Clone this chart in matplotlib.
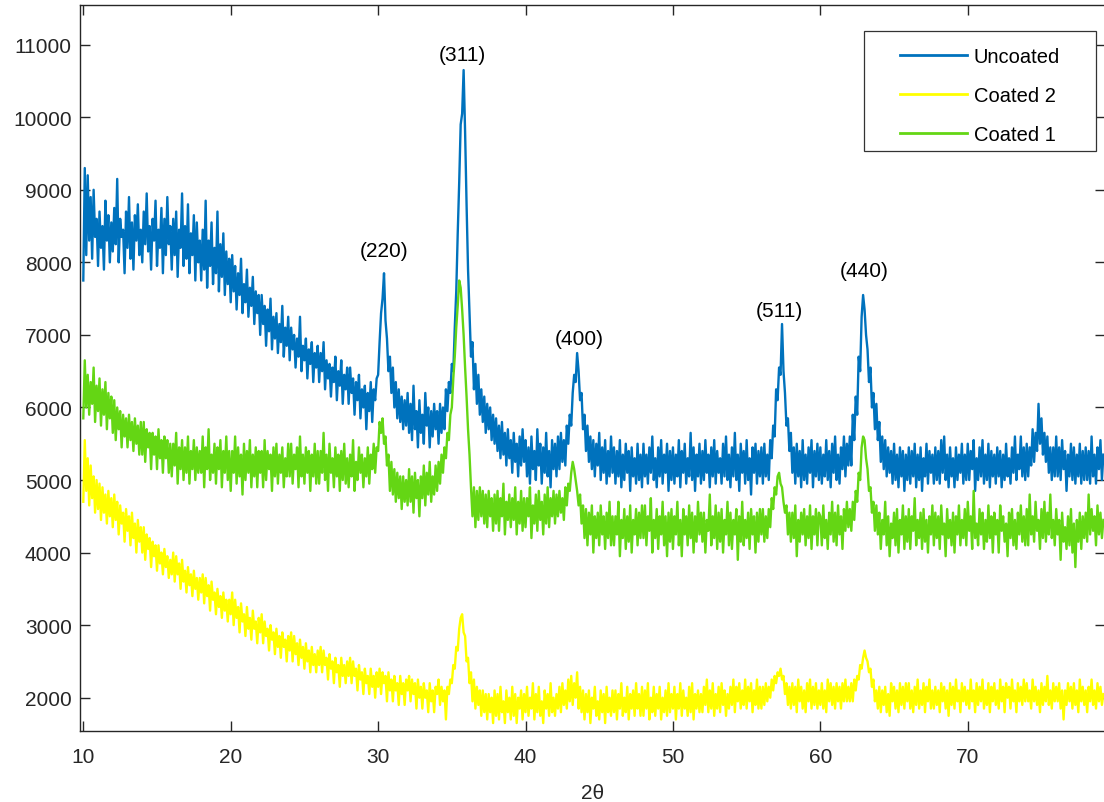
import numpy as np
import matplotlib
matplotlib.use("Agg")
import matplotlib.pyplot as plt
from matplotlib.patches import Rectangle

plt.rcParams['font.family'] = ['Liberation Sans', 'DejaVu Sans']

# XRD scans, every 0.1 deg starting at 10 deg
scan_start = 10.0
scan_step = 0.1

uncoated = [
    7750, 9300, 8100, 9200, 8300, 8900, 8050, 9000, 8350, 8600, 7950, 8700, 8200, 8500, 7900, 8850, 8300, 8650, 8000, 8550,
    8150, 8750, 8250, 9150, 8000, 8600, 8350, 8450, 7850, 8700, 8200, 8900, 8050, 8550, 7900, 8650, 8300, 8800, 8100, 8450,
    8000, 8700, 8250, 8950, 8150, 8500, 7900, 8600, 8300, 8850, 7950, 8450, 8200, 8750, 7850, 8600, 8100, 8900, 8250, 8500,
    7900, 8600, 8100, 8700, 7800, 8450, 8200, 8950, 7950, 8500, 8050, 8800, 7850, 8400, 8100, 8650, 7750, 8550, 8000, 8300,
    7750, 8450, 7900, 8850, 7650, 8300, 7950, 8550, 7700, 8200, 7850, 8700, 7600, 8250, 7800, 8400, 7550, 8150, 7700, 8050,
    7450, 8100, 7600, 7950, 7350, 7850, 7550, 8050, 7300, 7700, 7450, 7900, 7250, 7650, 7400, 7800, 7150, 7600, 7300, 7550,
    7000, 7550, 7150, 7400, 6850, 7350, 7050, 7500, 6800, 7250, 6950, 7300, 6750, 7150, 6900, 7400, 6700, 7100, 6850, 7250,
    6650, 7100, 6800, 7000, 6550, 6950, 6700, 7250, 6500, 6850, 6650, 6950, 6400, 6800, 6600, 6900, 6350, 6750, 6550, 6850,
    6350, 6750, 6500, 6900, 6250, 6650, 6400, 6600, 6150, 6550, 6350, 6700, 6100, 6500, 6300, 6650, 6050, 6450, 6250, 6550,
    6050, 6550, 6200, 6400, 5900, 6350, 6100, 6450, 5850, 6250, 6000, 6300, 5700, 6200, 5950, 6350, 5800, 6250, 6100, 6400,
    6450, 6900, 7300, 7500, 7850, 7200, 6950, 6500, 6700, 6200, 6550, 6000, 6350, 5850, 6250, 5800, 6150, 5700, 6100, 5750,
    6200, 5650, 6050, 5550, 6300, 5700, 5950, 5450, 6100, 5650, 5900, 5500, 6200, 5750, 6000, 5450, 5950, 5600, 6050, 5700,
    5950, 5500, 6050, 5650, 6000, 5700, 6250, 5950, 6350, 6200, 6600, 6500, 7100, 7600, 8400, 9100, 9900, 10050, 10650, 9800,
    8800, 7900, 7300, 6700, 6900, 6250, 6600, 6050, 6450, 5900, 6250, 5800, 6150, 5650, 6050, 5700, 6000, 5550, 5900, 5500,
    5850, 5400, 5750, 5300, 5800, 5350, 5650, 5200, 5700, 5300, 5550, 5100, 5650, 5250, 5500, 5050, 5600, 5200, 5700, 5250,
    5550, 5050, 5450, 4950, 5600, 5150, 5400, 5000, 5700, 5200, 5500, 4950, 5450, 5100, 5650, 5050, 5400, 4900, 5550, 5150,
    5500, 5050, 5600, 5150, 5650, 5250, 5550, 5200, 5750, 5500, 5900, 5750, 6200, 6450, 6350, 6750, 6500, 6100, 6200, 5700,
    5900, 5400, 5750, 5250, 5600, 5150, 5550, 5050, 5500, 5200, 5650, 5000, 5450, 5100, 5550, 4950, 5400, 5050, 5600, 5100,
    5450, 4950, 5400, 5050, 5550, 4900, 5350, 5000, 5500, 5100, 5400, 4850, 5450, 5050, 5300, 4950, 5500, 5000, 5350, 4900,
    5500, 5050, 5350, 4950, 5450, 5100, 5600, 5000, 5300, 4900, 5450, 5050, 5550, 4950, 5350, 5100, 5500, 4850, 5400, 5000,
    5450, 4950, 5350, 5050, 5550, 4900, 5400, 5100, 5500, 4950, 5300, 5050, 5650, 5000, 5450, 4850, 5350, 5050, 5500, 4950,
    5400, 5000, 5550, 5100, 5350, 4900, 5450, 5050, 5550, 4950, 5400, 5100, 5300, 4950, 5500, 5050, 5600, 5000, 5350, 4900,
    5450, 5050, 5650, 5000, 5350, 4850, 5500, 5100, 5400, 4950, 5550, 5000, 5300, 4800, 5450, 5100, 5500, 4950, 5400, 5050,
    5450, 4950, 5500, 5050, 5350, 5000, 5550, 5300, 5750, 5600, 6250, 6100, 6550, 6450, 7150, 6500, 6200, 5750, 5850, 5400,
    5650, 5100, 5450, 4950, 5500, 5050, 5400, 4900, 5550, 5000, 5350, 4950, 5450, 5100, 5550, 4900, 5400, 5050, 5500, 5000,
    5450, 4950, 5350, 5050, 5550, 5000, 5400, 4900, 5500, 5100, 5600, 5000, 5350, 4950, 5450, 5150, 5600, 5050, 5500, 5200,
    5600, 5200, 5900, 5550, 6150, 5900, 6700, 6500, 7250, 7550, 7350, 7000, 6800, 6350, 6550, 6000, 6200, 5700, 6050, 5550,
    5800, 5250, 5600, 5150, 5550, 5050, 5450, 5100, 5400, 4950, 5500, 5000, 5350, 4900, 5450, 5050, 5400, 4850, 5350, 5000,
    5450, 4950, 5400, 5050, 5500, 4900, 5350, 5000, 5450, 4850, 5300, 5050, 5500, 4950, 5400, 5100, 5350, 4950, 5450, 5000,
    5400, 4950, 5550, 5100, 5600, 5000, 5350, 4900, 5450, 5050, 5300, 4900, 5450, 5000, 5350, 5100, 5500, 4950, 5350, 5000,
    5500, 5000, 5400, 5150, 5550, 4850, 5300, 5000, 5450, 5050, 5550, 4950, 5350, 5000, 5500, 4900, 5400, 5050, 5350, 4950,
    5450, 5050, 5400, 4900, 5350, 5000, 5500, 5050, 5300, 4950, 5450, 5100, 5600, 5000, 5350, 5150, 5600, 5050, 5450, 5000,
    5500, 5050, 5450, 5200, 5700, 5250, 5650, 5400, 6050, 5500, 5850, 5350, 5650, 5250, 5600, 5100, 5450, 5000, 5450, 5050,
    5600, 5050, 5450, 5000, 5550, 5150, 5400, 4850, 5350, 5050, 5500, 5000, 5450, 4950, 5350, 5050, 5500, 4950, 5400, 5000,
    5450, 5000, 5400, 4950, 5600, 5050, 5350, 4950, 5450, 5150, 5550, 5000, 5350,
]

coated_2 = [
    4700, 5550, 4850, 5300, 4650, 5200, 4750, 5050, 4550, 5000, 4600, 4950, 4450, 4900, 4550, 4800, 4400, 4850, 4500, 4750,
    4350, 4800, 4450, 4700, 4250, 4650, 4400, 4550, 4150, 4600, 4300, 4500, 4100, 4550, 4200, 4400, 4000, 4450, 4150, 4350,
    4000, 4350, 3900, 4250, 4050, 4200, 3800, 4150, 3950, 4100, 3750, 4100, 3850, 4000, 3700, 4050, 3800, 3950, 3650, 3900,
    3700, 4000, 3600, 3950, 3700, 3850, 3500, 3900, 3600, 3750, 3450, 3800, 3550, 3700, 3400, 3750, 3500, 3650, 3350, 3650,
    3450, 3700, 3300, 3650, 3400, 3550, 3200, 3600, 3350, 3450, 3150, 3500, 3250, 3400, 3100, 3450, 3200, 3350, 3050, 3350,
    3150, 3450, 3000, 3350, 3100, 3250, 2900, 3300, 3050, 3150, 2850, 3250, 2950, 3100, 2800, 3200, 2950, 3050, 2750, 3100,
    2900, 3150, 2750, 3050, 2850, 2950, 2650, 3000, 2800, 2900, 2600, 2950, 2700, 2850, 2550, 2900, 2700, 2800, 2500, 2850,
    2650, 2900, 2500, 2850, 2600, 2750, 2450, 2800, 2550, 2700, 2400, 2750, 2500, 2650, 2350, 2700, 2450, 2600, 2350, 2650,
    2450, 2700, 2350, 2650, 2450, 2550, 2250, 2600, 2400, 2500, 2200, 2550, 2350, 2450, 2150, 2550, 2300, 2450, 2200, 2500,
    2300, 2550, 2200, 2500, 2300, 2400, 2100, 2450, 2250, 2350, 2050, 2400, 2200, 2300, 2050, 2400, 2150, 2300, 2000, 2350,
    2150, 2400, 2050, 2350, 2200, 2300, 1950, 2350, 2100, 2250, 1950, 2300, 2100, 2200, 1900, 2300, 2050, 2200, 1900, 2250,
    2100, 2300, 1950, 2250, 2050, 2200, 1850, 2250, 2000, 2150, 1850, 2200, 2000, 2100, 1800, 2200, 1950, 2100, 1800, 2150,
    2050, 2250, 1900, 2150, 1950, 2100, 1700, 2150, 2050, 2250, 2200, 2450, 2400, 2700, 2650, 2950, 3100, 3150, 2900, 2850,
    2500, 2550, 2200, 2350, 1950, 2250, 1850, 2150, 1900, 2100, 1750, 2100, 1800, 2050, 1700, 2050, 1800, 2000, 1650, 2100,
    1750, 2050, 1700, 2150, 1800, 1950, 1650, 2100, 1800, 2000, 1700, 2150, 1750, 2050, 1650, 2000, 1850, 2100, 1700, 2050,
    1800, 2150, 1750, 2000, 1850, 2200, 1700, 2050, 1800, 2150, 1750, 1950, 1650, 2100, 1850, 2050, 1750, 2200, 1800, 2000,
    1750, 2050, 1850, 2150, 1800, 2200, 1900, 2100, 1850, 2250, 1950, 2300, 1900, 2200, 2000, 2350, 1850, 2150, 1800, 2100,
    1700, 2050, 1800, 2100, 1650, 2000, 1850, 2150, 1750, 1950, 1700, 2100, 1800, 2050, 1650, 2150, 1800, 2000, 1750, 2100,
    1800, 2100, 1700, 2050, 1850, 2200, 1750, 2000, 1800, 2150, 1700, 2050, 1850, 2100, 1750, 2200, 1850, 2050, 1750, 2150,
    1750, 2100, 1850, 2200, 1700, 2000, 1800, 2150, 1750, 2050, 1850, 2150, 1700, 2000, 1800, 2100, 1750, 2200, 1800, 2050,
    1850, 2150, 1700, 2050, 1850, 2200, 1750, 2100, 1850, 2000, 1750, 2150, 1800, 2200, 1700, 2050, 1850, 2100, 1800, 2050,
    1800, 2150, 1900, 2250, 1800, 2100, 1850, 2200, 1750, 2050, 1850, 2150, 1800, 2200, 1900, 2100, 1750, 2050, 1850, 2150,
    1900, 2250, 1800, 2150, 1950, 2200, 1850, 2100, 1900, 2250, 1850, 2150, 1950, 2200, 1800, 2100, 1900, 2250, 1850, 2150,
    1850, 2150, 1900, 2200, 1950, 2150, 2000, 2250, 2100, 2300, 2200, 2350, 2300, 2400, 2250, 2300, 2050, 2200, 1900, 2150,
    1850, 2200, 1900, 2150, 1800, 2250, 1950, 2150, 1850, 2100, 1800, 2200, 1950, 2250, 1850, 2150, 1900, 2200, 1850, 2100,
    1900, 2200, 1850, 2100, 1800, 2250, 1950, 2200, 1900, 2150, 1850, 2200, 1950, 2150, 1850, 2200, 1950, 2250, 1950, 2150,
    1950, 2200, 1950, 2250, 2100, 2300, 2250, 2450, 2400, 2550, 2650, 2550, 2500, 2350, 2400, 2150, 2250, 1950, 2100, 1850,
    2150, 1800, 2100, 1900, 2150, 1800, 2050, 1750, 2200, 1950, 2150, 1850, 2100, 1800, 2200, 1900, 2150, 1850, 2200, 1950,
    2200, 1850, 2100, 1800, 2150, 1900, 2250, 1850, 2100, 1900, 2200, 1800, 2150, 1950, 2250, 1850, 2100, 1850, 2150, 1900,
    2100, 1800, 2200, 1950, 2150, 1850, 2100, 1750, 2200, 1900, 2150, 1850, 2250, 1950, 2100, 1800, 2200, 1950, 2150, 1900,
    2100, 1850, 2250, 1950, 2100, 1800, 2200, 1900, 2150, 1950, 2250, 1850, 2100, 1900, 2200, 1800, 2150, 1950, 2200, 1900,
    2100, 1850, 2250, 1950, 2150, 1800, 2200, 2000, 2150, 1850, 2250, 1950, 2100, 1800, 2200, 1950, 2150, 1900, 2250, 1950,
    2200, 1950, 2100, 1850, 2250, 1950, 2150, 1900, 2100, 1800, 2200, 1900, 2150, 1950, 2300, 1900, 2100, 1850, 2200, 1950,
    2150, 1950, 2200, 1850, 2100, 1700, 2100, 1900, 2200, 1950, 2150, 1850, 2200, 1900, 2100, 1800, 2250, 1950, 2150, 1900,
    2100, 1800, 2150, 1950, 2250, 1900, 2100, 1850, 2200, 1950, 2150, 1900, 2050,
]

coated_1 = [
    5850, 6650, 6000, 6450, 5900, 6350, 6050, 6550, 5800, 6300, 5950, 6400, 5750, 6250, 5900, 6350, 5700, 6200, 5850, 6150,
    5650, 6100, 5550, 6000, 5700, 5950, 5450, 5900, 5600, 5850, 5450, 5900, 5550, 5800, 5400, 5850, 5500, 5750, 5350, 5800,
    5350, 5800, 5250, 5700, 5450, 5650, 5150, 5650, 5350, 5600, 5150, 5700, 5300, 5550, 5100, 5600, 5300, 5550, 5100, 5500,
    5050, 5500, 5200, 5650, 4950, 5450, 5150, 5550, 5000, 5450, 5100, 5600, 4950, 5400, 5150, 5550, 5000, 5450, 5100, 5400,
    5100, 5600, 4900, 5450, 5150, 5700, 5000, 5350, 5100, 5500, 4950, 5450, 5150, 5550, 4900, 5400, 5100, 5600, 5000, 5400,
    4850, 5400, 5100, 5600, 4950, 5450, 5050, 5350, 4800, 5500, 5000, 5400, 5100, 5550, 4900, 5350, 5050, 5450, 4900, 5400,
    5100, 5400, 4900, 5550, 5000, 5400, 5150, 5350, 4850, 5450, 5050, 5500, 4950, 5350, 5100, 5450, 4900, 5300, 5050, 5500,
    5050, 5500, 4950, 5350, 5150, 5450, 4900, 5600, 5050, 5350, 4950, 5450, 5100, 5400, 4850, 5350, 5050, 5500, 4950, 5400,
    4950, 5400, 5100, 5650, 5000, 5350, 4850, 5500, 5100, 5300, 4900, 5450, 5050, 5350, 4850, 5400, 5000, 5500, 4950, 5300,
    4900, 5350, 5050, 5550, 4850, 5250, 5000, 5450, 5100, 5350, 4900, 5300, 5050, 5450, 4950, 5350, 5150, 5500, 5100, 5450,
    5400, 5800, 5650, 5850, 5500, 5600, 5200, 5350, 4850, 5250, 4800, 5150, 4700, 5100, 4750, 5050, 4600, 5050, 4700, 5000,
    4650, 5150, 4700, 5050, 4550, 5100, 4750, 5000, 4500, 5050, 4750, 5200, 4650, 5100, 4800, 5250, 4700, 5050, 4800, 5200,
    4850, 5250, 4950, 5350, 5100, 5450, 5300, 5650, 5550, 5900, 6000, 6400, 6700, 7100, 7400, 7750, 7650, 7350, 7000, 6550,
    6150, 5700, 5350, 4900, 4500, 4900, 4350, 4850, 4450, 4900, 4500, 4850, 4400, 4800, 4350, 4850, 4500, 4750, 4300, 4800,
    4400, 4850, 4300, 4750, 4500, 4950, 4250, 4700, 4450, 4800, 4350, 4750, 4450, 4900, 4250, 4700, 4400, 4850, 4300, 4750,
    4350, 4750, 4500, 4900, 4200, 4650, 4400, 4800, 4300, 4850, 4450, 4700, 4250, 4800, 4400, 4900, 4350, 4750, 4500, 4850,
    4400, 4800, 4500, 4850, 4550, 4750, 4450, 4900, 4650, 4950, 4850, 5100, 5250, 5150, 5000, 4850, 4650, 4800, 4400, 4650,
    4200, 4600, 4100, 4550, 4250, 4650, 4000, 4500, 4200, 4550, 4100, 4650, 4250, 4500, 4050, 4550, 4200, 4700, 4100, 4500,
    4100, 4500, 4250, 4700, 3950, 4450, 4200, 4600, 4050, 4500, 4150, 4650, 4000, 4450, 4250, 4600, 4100, 4550, 4200, 4650,
    4200, 4650, 4100, 4500, 4300, 4750, 4000, 4450, 4200, 4600, 4050, 4500, 4250, 4700, 4100, 4500, 3950, 4550, 4150, 4600,
    4050, 4500, 4250, 4700, 4100, 4450, 3950, 4600, 4250, 4500, 4100, 4650, 4200, 4550, 4000, 4500, 4150, 4700, 4250, 4550,
    4150, 4550, 4000, 4450, 4300, 4800, 4100, 4500, 4200, 4650, 4050, 4550, 4150, 4600, 4000, 4450, 4250, 4700, 4100, 4550,
    4050, 4450, 4250, 4600, 3900, 4500, 4150, 4700, 4100, 4450, 4200, 4550, 4050, 4600, 4250, 4500, 4000, 4550, 4150, 4600,
    4250, 4600, 4150, 4500, 4200, 4600, 4350, 4750, 4600, 4900, 4800, 5050, 5100, 4950, 4900, 4700, 4550, 4650, 4250, 4550,
    4150, 4550, 4200, 4650, 3950, 4450, 4150, 4550, 4250, 4600, 4100, 4500, 4200, 4650, 4050, 4500, 4250, 4600, 4100, 4550,
    4500, 4100, 4650, 4200, 4450, 4050, 4550, 4250, 4700, 4150, 4550, 4100, 4650, 4250, 4500, 4050, 4600, 4300, 4700, 4350,
    4600, 4300, 4700, 4450, 4850, 4700, 5100, 5000, 5450, 5600, 5550, 5300, 5150, 4850, 4900, 4550, 4700, 4300, 4650, 4250,
    4550, 4050, 4450, 4250, 4700, 4100, 4500, 3950, 4400, 4200, 4550, 4100, 4600, 4000, 4450, 4250, 4650, 4050, 4500, 4150,
    4600, 4050, 4500, 4300, 4750, 4100, 4450, 4200, 4550, 4050, 4600, 4150, 4450, 4000, 4500, 4250, 4650, 4100, 4550, 4200,
    4500, 4050, 4650, 4250, 4400, 3950, 4600, 4200, 4450, 4100, 4550, 4000, 4500, 4250, 4650, 4100, 4450, 4200, 4600, 4100,
    4700, 4300, 4500, 4050, 4850, 4200, 4400, 4100, 4600, 4250, 4550, 4050, 4450, 4150, 4650, 4200, 4500, 4000, 4550, 4250,
    4450, 4000, 4650, 4300, 4500, 4150, 4400, 3950, 4550, 4200, 4600, 4100, 4450, 4050, 4550, 4250, 4650, 4150, 4500, 4100,
    4600, 4100, 4800, 4250, 4500, 4150, 4700, 4300, 4450, 4050, 4600, 4200, 4700, 4150, 4550, 4250, 4800, 4200, 4450, 4100,
    4600, 4250, 4450, 3900, 4550, 4150, 4350, 4050, 4500, 4100, 4600, 4000, 4400, 3800, 4450, 4150, 4550, 4050, 4500, 4200,
    4550, 4150, 4800, 4250, 4600, 4300, 4500, 4100, 4650, 4250, 4550, 4200, 4450,
]

series_names = ['Uncoated', 'Coated 2', 'Coated 1']
series_colors = ['#0072BD', '#FFFF00', '#64D614']

peak_labels = ['(220)', '(311)', '(400)', '(511)', '(440)']
peak_label_x = [30.4, 35.69, 43.63, 57.2, 62.96]
peak_label_y = [8170, 10858, 6957, 7343, 7881]

fig = plt.figure(figsize=(11.04, 8.03), dpi=100)
W, H = 1104, 803
ax = fig.add_axes([80 / W, 1 - 731.7 / H, 1025 / W, 725.7 / H])

for vals, name, col in zip([uncoated, coated_2, coated_1], series_names, series_colors):
    two_theta = np.round(scan_start + scan_step * np.arange(len(vals)), 2)
    ax.plot(two_theta, vals, color=col, lw=1.7, label=name)

for lab, px, py in zip(peak_labels, peak_label_x, peak_label_y):
    ax.text(px, py, lab, ha='center', va='center', fontsize=15, color='black')

ax.set_xlim(9.776, 79.31)
ax.set_ylim(1545, 11547)
ax.set_xticks(range(10, 80, 10))
ax.set_yticks(range(2000, 11001, 1000))

dark = '#262626'
for s in ax.spines.values():
    s.set_color(dark)
    s.set_linewidth(1.0)
ax.tick_params(direction='in', length=7.5, width=1.0, colors=dark,
               labelsize=15, top=True, right=True)
ax.tick_params(axis='x', pad=12)
ax.tick_params(axis='y', pad=6)

ax.set_xlabel('2θ', fontsize=15, color=dark, va='top')
ax.xaxis.set_label_coords(0.5, -0.0715)

# legend: frame drawn separately so the padding matches the original box
leg = ax.legend(loc='upper left', bbox_to_anchor=(0.80, 0.942), frameon=False,
                borderaxespad=0, borderpad=0, handlelength=3.35,
                handletextpad=0.3, labelspacing=1.0, fontsize=14.5)
for h in leg.get_lines():
    h.set_linewidth(2.0)
ax.add_patch(Rectangle((0.7649, 0.7992), 0.9912 - 0.7649, 0.9646 - 0.7992,
                       transform=ax.transAxes, facecolor='white',
                       edgecolor='#333333', lw=0.9, zorder=4))
leg.set_zorder(5)

fig.savefig('out.png', dpi=100)
